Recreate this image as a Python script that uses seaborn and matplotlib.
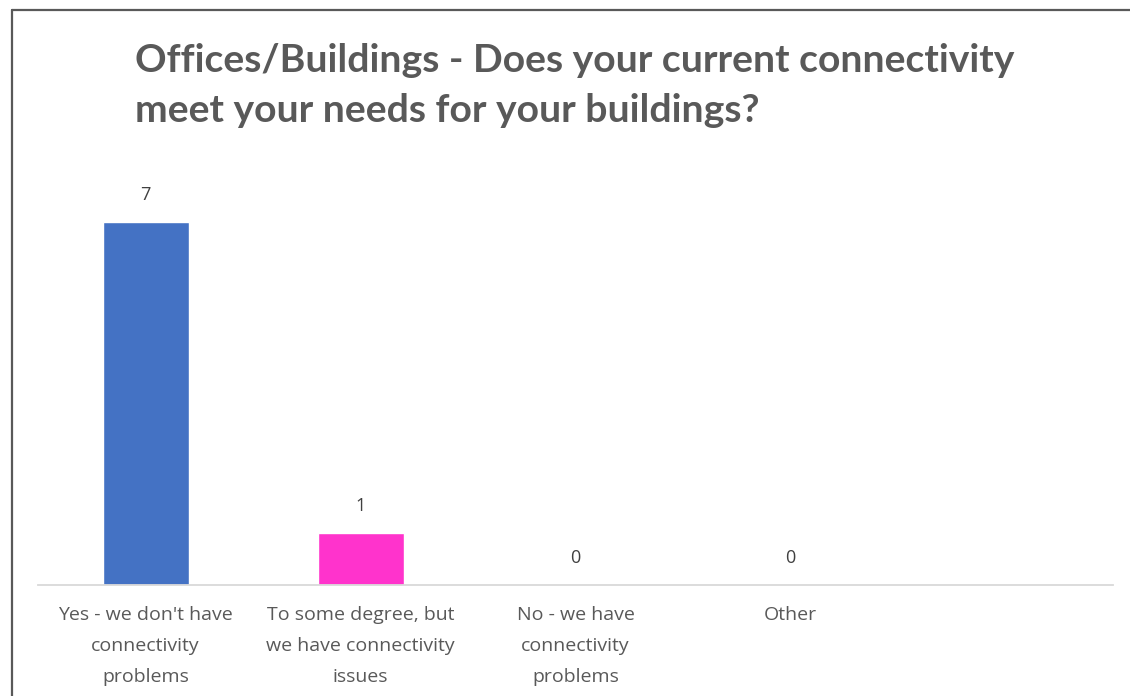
import matplotlib
matplotlib.use("Agg")
import matplotlib.pyplot as plt
import seaborn as sns
from matplotlib.lines import Line2D

# Survey answers and counts
categories = [
    "Yes - we don't have\nconnectivity\nproblems",
    "To some degree, but\nwe have connectivity\nissues",
    "No - we have\nconnectivity\nproblems",
    "Other",
]
counts = [7, 1, 0, 0]
bar_colors = ["#4472C4", "#FF33CC", "#A5A5A5", "#FFC000"]

title = "Offices/Buildings - Does your current connectivity\nmeet your needs for your buildings?"

sns.set_style("white")
plt.rcParams['font.family'] = ['Open Sans', 'DejaVu Sans']

fig = plt.figure(figsize=(11.3, 6.96), dpi=100)
ax = fig.add_axes([38 / 1130, 111 / 696, 1075 / 1130, 415 / 696])

sns.barplot(x=categories, y=counts, hue=categories, palette=bar_colors,
            width=0.4, saturation=1, legend=False, ax=ax)

# leave room for an empty fifth slot like the original chart
ax.set_xlim(-0.5, 4.5)
ax.set_ylim(0, 8)

for cont in ax.containers:
    ax.bar_label(cont, padding=13, fontsize=13, color="#404040")

ax.set_yticks([])
ax.set_xlabel("")
ax.set_ylabel("")
ax.tick_params(axis="x", length=0, pad=15, labelsize=14, labelcolor="#595959")
for lbl in ax.get_xticklabels():
    lbl.set_linespacing(1.93)

for side in ["left", "right", "top"]:
    ax.spines[side].set_visible(False)
ax.spines["bottom"].set_color("#D9D9D9")
ax.spines["bottom"].set_linewidth(1.3)

fig.text(135 / 1130, 1 - 43 / 696, title, fontsize=28.2, fontweight="bold",
         color="#595959", ha="left", va="top", linespacing=1.5,
         family=["Lato", "DejaVu Sans"])

# outer frame (top and left edges visible in the screenshot)
fig.add_artist(Line2D([12 / 1130, 1.0], [1 - 10 / 696, 1 - 10 / 696],
                      color="#595959", lw=1.6, transform=fig.transFigure))
fig.add_artist(Line2D([12 / 1130, 12 / 1130], [0, 1 - 10 / 696],
                      color="#595959", lw=1.6, transform=fig.transFigure))

fig.savefig("out.png", dpi=100)
